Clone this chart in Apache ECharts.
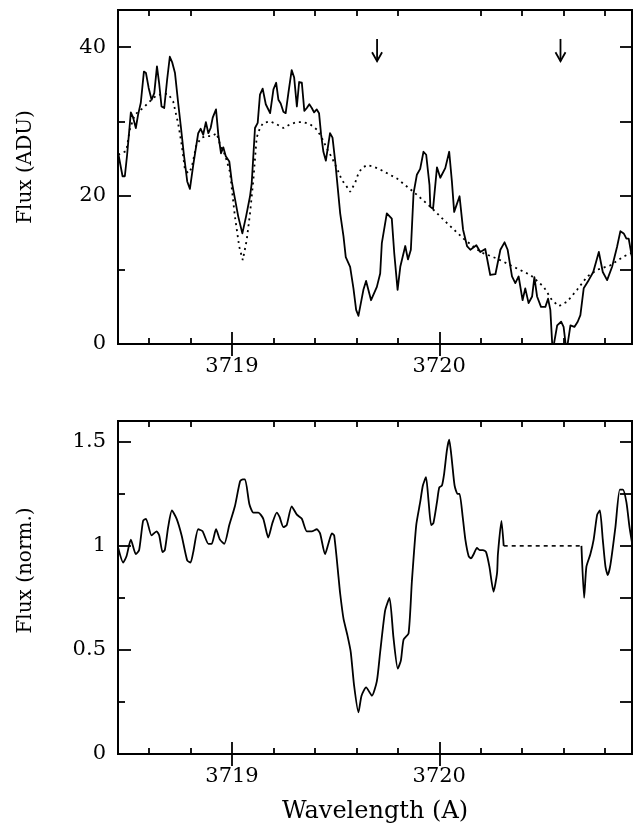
<!DOCTYPE html>
<html>
<head>
<meta charset="utf-8">
<script src="https://cdn.jsdelivr.net/npm/echarts@6/dist/echarts.min.js"></script>
<style>
  html, body { margin: 0; padding: 0; background: #fff; }
  #chart { width: 642px; height: 834px; }
</style>
</head>
<body>
<div id="chart"></div>
<script>
// Observed spectrum (upper panel, solid)
const obsWave = [3718.451,3718.472,3718.483,3718.494,3718.512,3718.523,3718.536,3718.547,3718.560,3718.575,3718.585,3718.598,3718.612,3718.625,3718.638,3718.649,3718.660,3718.673,3718.687,3718.700,3718.712,3718.725,3718.741,3718.754,3718.768,3718.784,3718.797,3718.813,3718.837,3718.849,3718.861,3718.874,3718.886,3718.897,3718.907,3718.923,3718.934,3718.947,3718.958,3718.970,3718.977,3718.987,3718.999,3719.006,3719.030,3719.050,3719.068,3719.087,3719.095,3719.111,3719.124,3719.135,3719.148,3719.163,3719.184,3719.200,3719.213,3719.224,3719.235,3719.248,3719.259,3719.272,3719.288,3719.300,3719.313,3719.324,3719.337,3719.349,3719.361,3719.373,3719.385,3719.396,3719.409,3719.420,3719.430,3719.441,3719.453,3719.462,3719.473,3719.485,3719.498,3719.509,3719.522,3719.538,3719.549,3719.570,3719.586,3719.599,3719.610,3719.634,3719.647,3719.671,3719.699,3719.715,3719.723,3719.747,3719.771,3719.783,3719.799,3719.812,3719.836,3719.849,3719.863,3719.876,3719.892,3719.908,3719.924,3719.937,3719.953,3719.957,3719.970,3719.989,3720.005,3720.029,3720.048,3720.061,3720.072,3720.098,3720.115,3720.134,3720.150,3720.179,3720.198,3720.222,3720.246,3720.271,3720.295,3720.315,3720.330,3720.351,3720.367,3720.383,3720.402,3720.415,3720.431,3720.448,3720.459,3720.472,3720.491,3720.512,3720.525,3720.536,3720.547,3720.569,3720.588,3720.600,3720.614,3720.633,3720.652,3720.668,3720.681,3720.697,3720.721,3720.743,3720.770,3720.789,3720.810,3720.834,3720.858,3720.874,3720.890,3720.903,3720.914,3720.931];
const obsFlux = [25.7,22.6,22.6,25.5,31.2,30.5,29.1,30.9,32.5,36.7,36.5,34.5,32.9,33.8,37.4,35.0,32.0,31.8,35.6,38.7,37.9,36.5,32.3,29.1,25.5,21.9,20.9,24.1,28.4,29.0,28.2,29.9,28.4,29.1,30.5,31.6,28.2,25.7,26.5,25.3,25.5,24.6,21.9,20.8,17.2,14.9,17.2,19.9,21.6,29.1,29.8,33.6,34.4,32.3,31.1,34.3,35.2,32.9,32.4,31.3,31.1,33.8,36.9,35.9,32.0,35.3,35.2,31.4,31.8,32.3,31.8,31.2,31.6,31.1,28.2,25.9,24.7,24.8,28.4,27.8,24.6,21.4,17.6,14.5,11.7,10.4,7.5,4.6,3.8,7.3,8.5,5.9,7.7,9.5,13.6,17.6,16.9,12.2,7.3,10.4,13.2,11.4,12.7,20.3,22.8,23.6,25.9,25.5,21.4,18.5,18.2,23.8,22.4,23.7,25.9,21.9,17.8,19.9,15.4,13.2,12.7,13.3,12.4,12.8,9.3,9.4,12.7,13.7,12.7,9.1,8.2,9.1,5.9,7.5,5.5,6.4,9.0,6.4,5.0,5.0,6.1,4.6,-1.0,2.5,3.0,2.3,-1.0,2.5,2.3,3.0,3.9,7.5,8.6,9.7,12.4,9.7,8.6,10.4,13.1,15.2,14.9,14.2,14.2,11.5];

// Model spectrum (upper panel, dotted)
const modelWave = [3718.451,3718.490,3718.507,3718.531,3718.571,3718.604,3718.636,3718.668,3718.692,3718.716,3718.741,3718.757,3718.773,3718.789,3718.805,3718.829,3718.854,3718.878,3718.902,3718.926,3718.942,3718.966,3718.990,3718.995,3719.014,3719.035,3719.052,3719.071,3719.087,3719.103,3719.119,3719.135,3719.151,3719.184,3719.216,3719.248,3719.280,3719.313,3719.344,3719.377,3719.409,3719.433,3719.457,3719.482,3719.506,3719.530,3719.554,3719.570,3719.594,3719.610,3719.627,3719.651,3719.683,3719.715,3719.796,3719.876,3719.957,3720.037,3720.117,3720.198,3720.279,3720.359,3720.440,3720.504,3720.544,3720.577,3720.617,3720.665,3720.714,3720.762,3720.826,3720.890,3720.931];
const modelFlux = [25.5,26.0,28.9,30.9,31.8,32.7,33.5,33.7,33.7,32.7,29.6,26.9,23.5,23.0,23.7,26.9,27.8,28.0,28.0,28.4,26.9,25.5,23.2,22.0,17.2,13.1,11.3,14.0,17.6,22.1,27.8,29.1,29.8,30.0,29.6,29.1,29.6,29.9,29.9,29.6,28.9,27.8,26.4,25.1,23.7,22.1,21.2,20.5,21.7,23.0,23.7,24.1,23.9,23.5,22.3,20.5,18.5,16.3,14.2,12.4,11.5,10.4,9.3,7.7,5.9,5.1,5.7,7.3,9.1,10.0,10.6,11.8,12.3];

// Line positions marked with arrows (upper panel)
const arrowWave = [3719.700, 3720.585];
const arrowTopFlux = 41.1;
const arrowTipFlux = 38.1;

// Normalized spectrum (lower panel), two pieces either side of the masked stretch
const normWaveA = [3718.451,3718.475,3718.491,3718.512,3718.536,3718.552,3718.571,3718.585,3718.612,3718.636,3718.649,3718.665,3718.676,3718.692,3718.710,3718.733,3718.757,3718.784,3718.800,3718.813,3718.837,3718.858,3718.886,3718.902,3718.923,3718.942,3718.963,3718.987,3719.014,3719.039,3719.052,3719.063,3719.084,3719.103,3719.127,3719.151,3719.175,3719.195,3719.216,3719.229,3719.248,3719.264,3719.288,3719.313,3719.337,3719.361,3719.385,3719.409,3719.425,3719.449,3719.465,3719.482,3719.493,3719.514,3719.522,3719.538,3719.557,3719.573,3719.589,3719.610,3719.625,3719.647,3719.675,3719.699,3719.715,3719.739,3719.760,3719.779,3719.800,3719.815,3719.828,3719.852,3719.868,3719.889,3719.908,3719.921,3719.936,3719.948,3719.961,3719.972,3719.989,3720.000,3720.013,3720.024,3720.037,3720.048,3720.061,3720.074,3720.088,3720.098,3720.113,3720.126,3720.142,3720.153,3720.166,3720.182,3720.195,3720.211,3720.226,3720.242,3720.262,3720.279,3720.283,3720.300,3720.311];
const normFluxA = [0.99,0.92,0.95,1.03,0.96,0.98,1.12,1.13,1.05,1.07,1.05,0.97,0.98,1.09,1.17,1.13,1.05,0.93,0.92,0.97,1.08,1.07,1.01,1.01,1.08,1.03,1.01,1.10,1.19,1.31,1.32,1.32,1.20,1.16,1.16,1.13,1.04,1.11,1.16,1.14,1.09,1.10,1.19,1.15,1.13,1.07,1.07,1.08,1.06,0.96,1.01,1.06,1.05,0.85,0.77,0.65,0.57,0.49,0.33,0.20,0.28,0.32,0.28,0.35,0.49,0.69,0.75,0.56,0.41,0.45,0.55,0.58,0.83,1.10,1.21,1.29,1.33,1.22,1.10,1.11,1.21,1.28,1.29,1.35,1.46,1.51,1.41,1.29,1.25,1.25,1.14,1.03,0.95,0.94,0.96,0.99,0.98,0.98,0.97,0.90,0.78,0.87,0.96,1.12,1.00];
const normWaveB = [3720.686,3720.699,3720.710,3720.729,3720.745,3720.762,3720.775,3720.789,3720.802,3720.813,3720.826,3720.850,3720.871,3720.886,3720.903,3720.918,3720.931];
const normFluxB = [1.00,0.75,0.90,0.96,1.03,1.15,1.17,1.03,0.90,0.86,0.91,1.09,1.27,1.27,1.21,1.09,1.01];
// Masked stretch, held at the continuum level
const maskWave = [3720.311, 3720.686];
const maskFlux = [1.0, 1.0];

// Axis ranges and tick values
const waveRange = [3718.45, 3720.93];
const waveMajor = [3719, 3720];
const waveMinor = [3718.6, 3718.8, 3719.2, 3719.4, 3719.6, 3719.8, 3720.2, 3720.4, 3720.6, 3720.8];
const adcRange = [0, 45];
const adcMajor = [0, 20, 40];
const adcMinor = [10, 30];
const normRange = [0, 1.6];
const normMajor = [0, 0.5, 1, 1.5];
const normMinor = [0.25, 0.75, 1.25];

const pairs = (xs, ys) => xs.map((x, i) => [x, ys[i]]);

const FONT = 'DejaVu Serif';
const INK = '#000';
const plain = v => String(v);

function xAxisDef(gridIndex, position, ticks, len, withLabels, extra) {
  return Object.assign({
    type: 'value', gridIndex, position,
    min: waveRange[0], max: waveRange[1],
    axisLine: { show: false },
    splitLine: { show: false },
    axisTick: { show: true, inside: true, length: len, customValues: ticks,
                lineStyle: { color: INK, width: 1.8 } },
    axisLabel: { show: withLabels, customValues: ticks, margin: 12, formatter: plain,
                 color: INK, fontFamily: FONT, fontSize: 21 }
  }, extra || {});
}

function yAxisDef(gridIndex, position, range, ticks, len, withLabels, extra) {
  return Object.assign({
    type: 'value', gridIndex, position,
    min: range[0], max: range[1],
    axisLine: { show: false },
    splitLine: { show: false },
    axisTick: { show: true, inside: true, length: len, customValues: ticks,
                lineStyle: { color: INK, width: 1.8 } },
    axisLabel: { show: withLabels, customValues: ticks, margin: 12, formatter: plain,
                 color: INK, fontFamily: FONT, fontSize: 21 }
  }, extra || {});
}

const chart = echarts.init(document.getElementById('chart'), null, { renderer: 'canvas' });

const option = {
  animation: false,
  backgroundColor: '#fff',
  grid: [
    { left: 118, top: 10, width: 514, height: 334, show: true, borderColor: INK, borderWidth: 2, backgroundColor: 'transparent' },
    { left: 118, top: 421, width: 514, height: 333, show: true, borderColor: INK, borderWidth: 2, backgroundColor: 'transparent' }
  ],
  xAxis: [
    xAxisDef(0, 'bottom', waveMajor, 12, true),
    xAxisDef(0, 'top', waveMajor, 12, false),
    xAxisDef(0, 'bottom', waveMinor, 6, false),
    xAxisDef(0, 'top', waveMinor, 6, false),
    xAxisDef(1, 'bottom', waveMajor, 12, true, {
      name: 'Wavelength (A)', nameLocation: 'middle', nameGap: 46,
      nameTextStyle: { color: INK, fontFamily: FONT, fontSize: 24 }
    }),
    xAxisDef(1, 'top', waveMajor, 12, false),
    xAxisDef(1, 'bottom', waveMinor, 6, false),
    xAxisDef(1, 'top', waveMinor, 6, false)
  ],
  yAxis: [
    yAxisDef(0, 'left', adcRange, adcMajor, 13, true, {
      name: 'Flux (ADU)', nameLocation: 'middle', nameRotate: 90, nameGap: 82,
      nameTextStyle: { color: INK, fontFamily: FONT, fontSize: 20, padding: [0, 0, 0, 20] }
    }),
    yAxisDef(0, 'left', adcRange, adcMinor, 7, false),
    yAxisDef(0, 'right', adcRange, adcMajor.concat(adcMinor), 12, false),
    yAxisDef(1, 'left', normRange, normMajor, 13, true, {
      name: 'Flux (norm.)', nameLocation: 'middle', nameRotate: 90, nameGap: 82,
      nameTextStyle: { color: INK, fontFamily: FONT, fontSize: 20, padding: [0, 0, 0, 34] }
    }),
    yAxisDef(1, 'left', normRange, normMinor, 7, false),
    yAxisDef(1, 'right', normRange, normMajor.concat(normMinor), 12, false)
  ],
  series: [
    {
      name: 'observed', type: 'line', xAxisIndex: 0, yAxisIndex: 0,
      data: pairs(obsWave, obsFlux), showSymbol: false, symbol: 'none',
      lineStyle: { color: INK, width: 1.8, join: 'round' }, clip: true, z: 3
    },
    {
      name: 'model', type: 'line', xAxisIndex: 0, yAxisIndex: 0,
      data: pairs(modelWave, modelFlux), showSymbol: false, symbol: 'none',
      lineStyle: { color: INK, width: 1.8, type: [2, 4] }, clip: true, z: 2
    },
    {
      name: 'markers', type: 'custom', xAxisIndex: 0, yAxisIndex: 0,
      data: arrowWave.map(w => [w, arrowTopFlux, arrowTipFlux]),
      renderItem: function (params, api) {
        const w = api.value(0);
        const top = api.coord([w, api.value(1)]);
        const tip = api.coord([w, api.value(2)]);
        return {
          type: 'group',
          children: [
            { type: 'line', shape: { x1: top[0], y1: top[1], x2: tip[0], y2: tip[1] },
              style: { stroke: INK, lineWidth: 1.8 } },
            { type: 'polyline', shape: { points: [[tip[0] - 5, tip[1] - 9], [tip[0], tip[1]], [tip[0] + 5, tip[1] - 9]] },
              style: { stroke: INK, fill: null, lineWidth: 1.8 } }
          ]
        };
      },
      z: 4
    },
    {
      name: 'normalized', type: 'line', xAxisIndex: 4, yAxisIndex: 3,
      data: pairs(normWaveA, normFluxA), showSymbol: false, symbol: 'none', smooth: 0.2,
      lineStyle: { color: INK, width: 1.8 }, clip: true, z: 3
    },
    {
      name: 'normalized-red', type: 'line', xAxisIndex: 4, yAxisIndex: 3,
      data: pairs(normWaveB, normFluxB), showSymbol: false, symbol: 'none', smooth: 0.2,
      lineStyle: { color: INK, width: 1.8 }, clip: true, z: 3
    },
    {
      name: 'masked', type: 'line', xAxisIndex: 4, yAxisIndex: 3,
      data: pairs(maskWave, maskFlux), showSymbol: false, symbol: 'none',
      lineStyle: { color: INK, width: 1.6, type: [4, 4] }, clip: true, z: 2
    }
  ]
};

chart.setOption(option);
</script>
</body>
</html>
